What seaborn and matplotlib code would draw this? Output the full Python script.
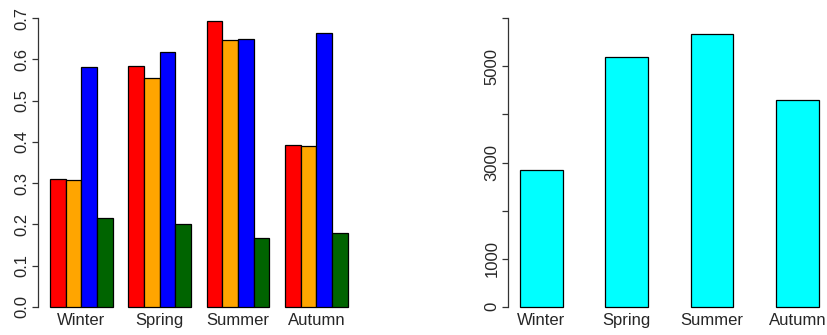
import matplotlib
matplotlib.use("Agg")
import matplotlib.pyplot as plt
import matplotlib.transforms as mtransforms
import numpy as np
import pandas as pd
import seaborn as sns

# Seasonal data
seasons = ["Winter", "Spring", "Summer", "Autumn"]
series_names = ["A", "B", "C", "D"]
series_a = [0.310, 0.584, 0.694, 0.393]
series_b = [0.307, 0.554, 0.646, 0.390]
series_c = [0.581, 0.618, 0.650, 0.663]
series_d = [0.215, 0.200, 0.168, 0.179]
series_colors = ["#FF0000", "#FFA500", "#0000FF", "#006400"]

totals = [2850, 5200, 5665, 4290]

left_ticks = [0.0, 0.1, 0.2, 0.3, 0.4, 0.5, 0.6, 0.7]
left_ticklabels = ["0.0", "0.1", "0.2", "0.3", "0.4", "0.5", "0.6", "0.7"]
right_ticks = [0, 1000, 2000, 3000, 4000, 5000, 6000]
right_ticklabels = ["0", "1000", "", "3000", "", "5000", ""]

sns.set_style("white")
plt.rcParams["font.family"] = ["Liberation Sans", "DejaVu Sans"]

grouped = pd.DataFrame({
    "season": np.repeat(seasons, 4),
    "series": series_names * 4,
    "value": np.column_stack([series_a, series_b, series_c, series_d]).ravel(),
})
single = pd.DataFrame({"season": seasons, "value": totals})

W, H = 827, 335
fig = plt.figure(figsize=(W / 100, H / 100), dpi=100)

def px_axes(x0, x1, ytop, ybot):
    return fig.add_axes([x0 / W, (H - ybot) / H, (x1 - x0) / W, (ybot - ytop) / H])

ax1 = px_axes(38.2, 359.5, 6.6, 318.4)
ax2 = px_axes(507.9, 830.6, 6.6, 318.4)

sns.barplot(data=grouped, x="season", y="value", hue="series",
            order=seasons, hue_order=series_names, palette=series_colors,
            width=0.8, edgecolor="black", linewidth=0.9, saturation=1,
            legend=False, ax=ax1)
sns.barplot(data=single, x="season", y="value", order=seasons,
            color="#00FFFF", width=0.5, edgecolor="black", linewidth=0.9,
            saturation=1, ax=ax2)

def style_axis(ax, ticks, labels, ylim, xlim):
    ax.set_xlim(*xlim)
    span = ylim[1] - ylim[0]
    ax.set_ylim(ylim[0] - 0.04 * span, ylim[1] + 0.04 * span)
    for s in ["top", "right", "bottom"]:
        ax.spines[s].set_visible(False)
    ax.spines["left"].set_bounds(ticks[0], ticks[-1])
    ax.spines["left"].set_color("#333333")
    ax.spines["left"].set_linewidth(0.9)
    ax.set_yticks(ticks)
    ax.set_yticklabels(labels, rotation=90, va="center", fontsize=12)
    ax.tick_params(axis="y", direction="out", length=4.6, width=0.9,
                   color="#333333", pad=1.6, left=True)
    ax.set_xticks([])
    ax.set_xlabel("")
    ax.set_ylabel("")
    ax.patch.set_alpha(0)
    trans = mtransforms.blended_transform_factory(ax.transData, fig.transFigure)
    for i, lab in enumerate(seasons):
        ax.text(i, (H - 325) / H, lab, transform=trans, ha="center",
                va="baseline", fontsize=12)

style_axis(ax1, left_ticks, left_ticklabels, (0, 0.7), (-0.552, 3.552))
style_axis(ax2, right_ticks, right_ticklabels, (0, 6000), (-0.39, 3.39))

fig.savefig("out.png", dpi=100)
